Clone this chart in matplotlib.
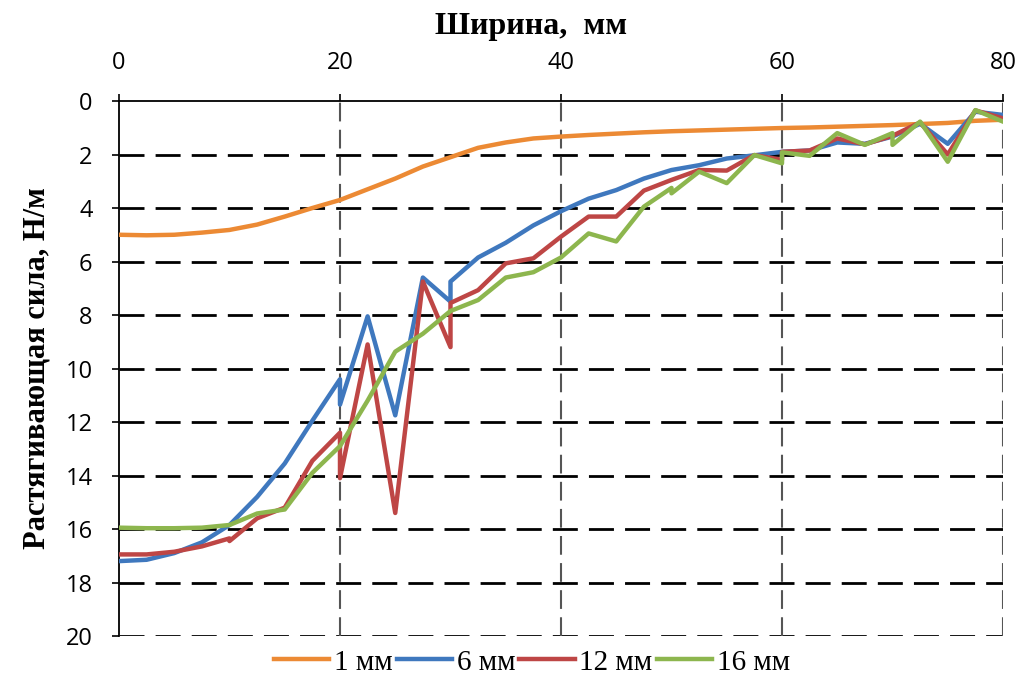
import matplotlib.pyplot as plt
import numpy as np

# width positions, mm (repeated x = joints between measured segments)
width = [0, 2.5, 5, 7.5, 10, 10, 12.5, 15, 17.5, 20, 20, 22.5, 25, 27.5, 30, 30,
         32.5, 35, 37.5, 40, 42.5, 45, 47.5, 50, 50, 52.5, 55, 57.5, 60, 60,
         62.5, 65, 67.5, 70, 70, 72.5, 75, 77.5, 80]

force_1mm = [5.0, 5.02, 5.0, 4.92, 4.82, 4.82, 4.62, 4.32, 4.0, 3.7, 3.7,
             3.3, 2.9, 2.45, 2.1, 2.1, 1.75, 1.55, 1.4, 1.33,
             1.27, 1.22, 1.17, 1.13, 1.13, 1.1, 1.07, 1.04, 1.01, 1.01,
             0.99, 0.96, 0.93, 0.9, 0.9, 0.86, 0.82, 0.74, 0.7]
force_6mm = [17.2, 17.15, 16.9, 16.5, 15.85, 15.85, 14.8, 13.55, 11.95, 10.4, 11.35,
             8.05, 11.75, 6.6, 7.5, 6.75, 5.85, 5.3, 4.65, 4.12,
             3.65, 3.33, 2.9, 2.58, 2.58, 2.4, 2.15, 2.03, 1.9, 1.9,
             1.85, 1.55, 1.6, 1.33, 1.33, 0.85, 1.6, 0.4, 0.52]
force_12mm = [16.95, 16.95, 16.85, 16.65, 16.35, 16.45, 15.6, 15.2, 13.45, 12.4, 14.1,
              9.1, 15.4, 6.75, 9.2, 7.55, 7.07, 6.07, 5.88, 5.07,
              4.32, 4.32, 3.35, 2.95, 2.95, 2.58, 2.6, 2.02, 2.2, 1.9,
              1.85, 1.4, 1.62, 1.3, 1.3, 0.8, 2.0, 0.35, 0.65]
force_16mm = [15.95, 15.97, 15.97, 15.95, 15.85, 15.85, 15.42, 15.27, 13.9, 12.9, 12.9,
              11.2, 9.37, 8.7, 7.85, 7.85, 7.44, 6.6, 6.4, 5.85,
              4.95, 5.25, 3.95, 3.25, 3.45, 2.64, 3.07, 2.02, 2.33, 1.92,
              2.05, 1.2, 1.64, 1.2, 1.64, 0.77, 2.27, 0.34, 0.77]

labels = ['1 мм', '6 мм', '12 мм', '16 мм']
colors = ['#EC8A34', '#3F78BE', '#BE4645', '#8DB64E']

fig = plt.figure(figsize=(10.24, 6.89), dpi=100)
ax = fig.add_axes([0.1162, 0.0769, 0.8633, 0.7765])

# grid first so the lines sit on top
for yv in np.arange(2, 21, 2):
    ax.axhline(yv, color='black', lw=2, dashes=(9, 4), zorder=1)
for xv in [20, 40, 60, 80]:
    ax.axvline(xv, color='#555555', lw=1.5, dashes=(9, 4), zorder=1)

for series, lab, col in zip([force_1mm, force_6mm, force_12mm, force_16mm], labels, colors):
    ax.plot(width, series, color=col, lw=3.2, label=lab, zorder=3, solid_joinstyle='round')

ax.set_xlim(0, 80)
ax.set_ylim(20, 0)
ax.xaxis.tick_top()
ax.xaxis.set_label_position('top')
ax.set_xticks([0, 20, 40, 60, 80])
ax.set_yticks(np.arange(0, 21, 2))

for s in ['right', 'bottom']:
    ax.spines[s].set_visible(False)
for s in ['top', 'left']:
    ax.spines[s].set_linewidth(1.3)

ax.tick_params(axis='both', direction='out', length=5, width=1.2, labelsize=17, pad=14)
for t in ax.get_xticklabels() + ax.get_yticklabels():
    t.set_family('Open Sans')

ax.set_xlabel('Ширина,  мм', family='Liberation Serif', fontweight='bold', fontsize=23, labelpad=2)
ax.xaxis.set_label_coords(0.466, 1.125)
ax.set_ylabel('Растягивающая сила, Н/м', family='Liberation Serif', fontweight='bold', fontsize=22, labelpad=10)

leg = ax.legend(loc='upper center', bbox_to_anchor=(0.467, 0.0), ncol=4, frameon=False,
                prop={'family': 'Liberation Serif', 'size': 21}, handlelength=1.9,
                handletextpad=0.15, columnspacing=0.15, borderaxespad=0.05)

fig.savefig('out.png', dpi=100)
